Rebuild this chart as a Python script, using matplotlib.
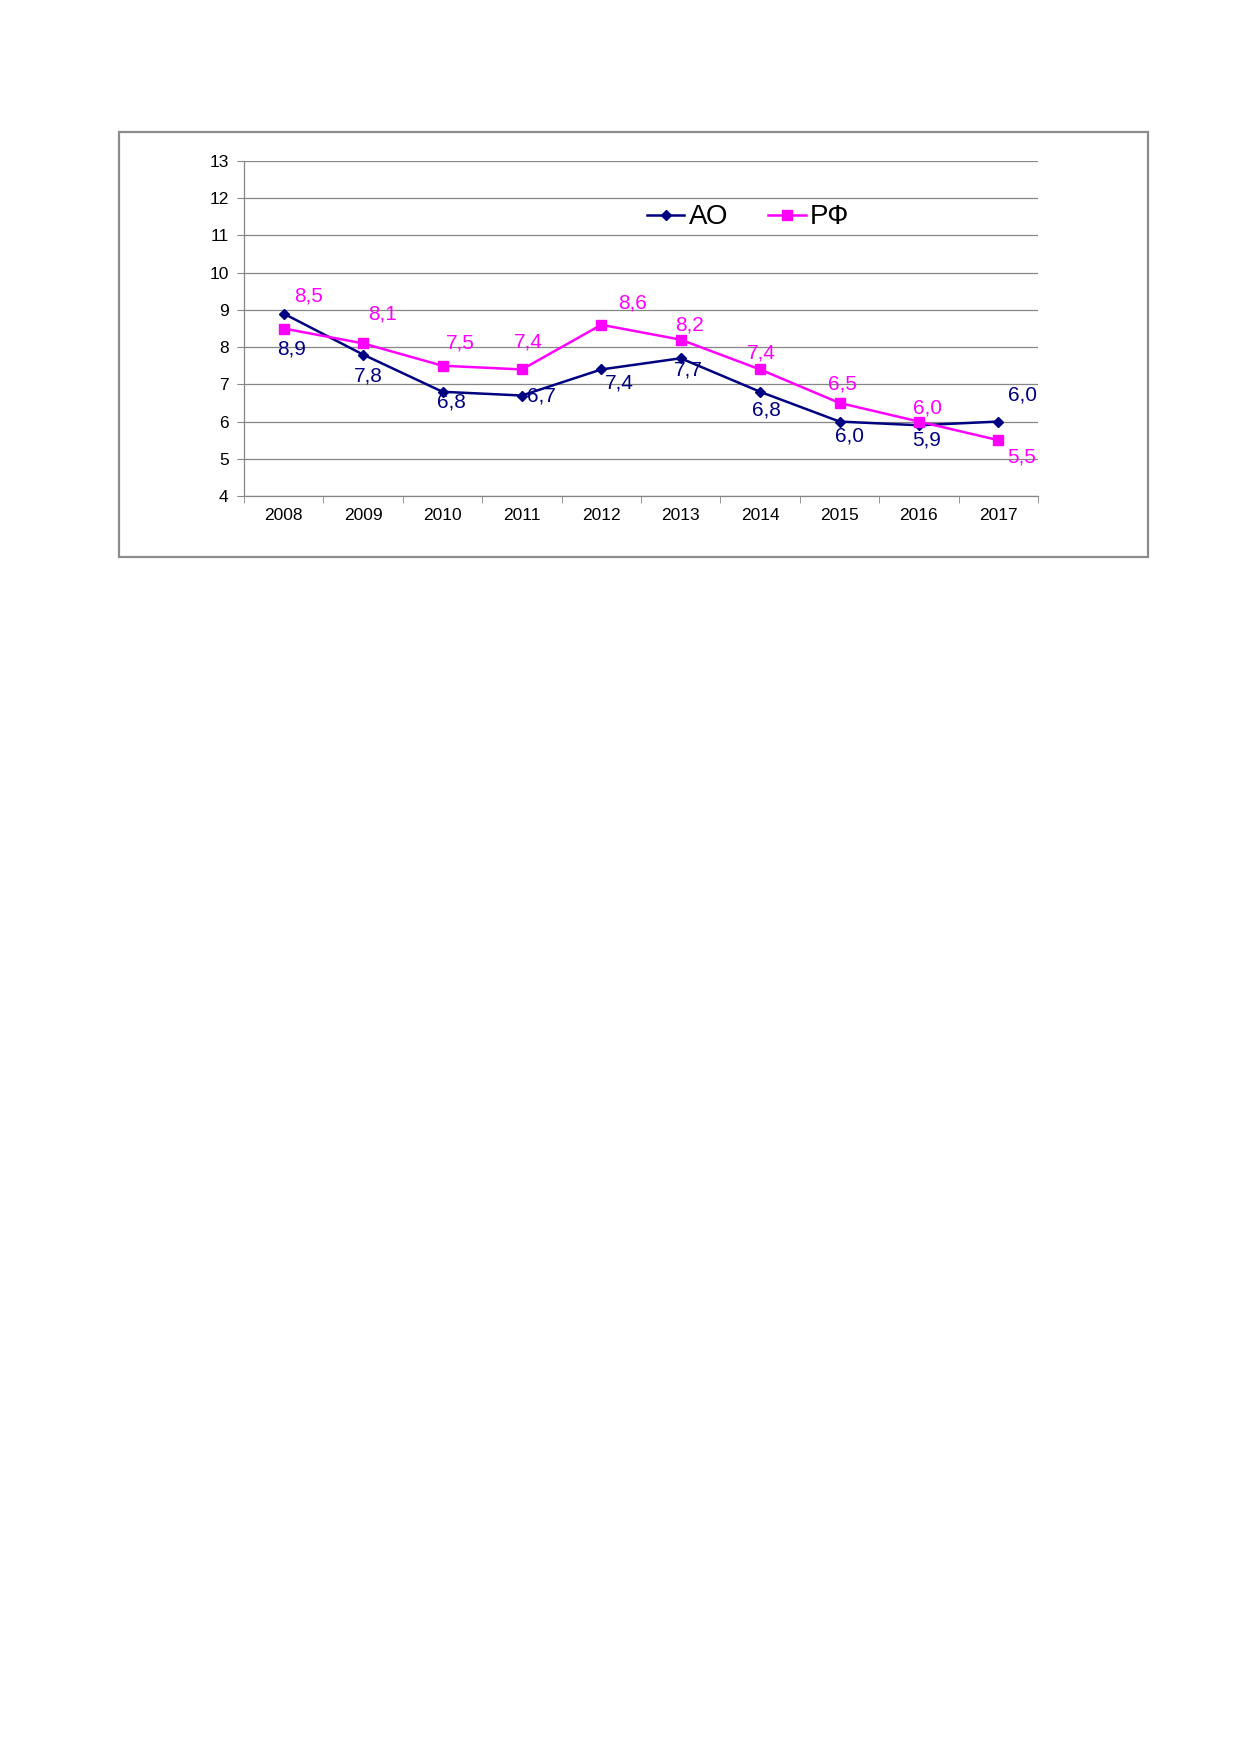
import matplotlib
matplotlib.use("Agg")
import matplotlib.pyplot as plt
from matplotlib.patches import Rectangle
import numpy as np

plt.rcParams['font.family'] = ['Liberation Sans', 'DejaVu Sans']

years = ['2008', '2009', '2010', '2011', '2012', '2013', '2014', '2015', '2016', '2017']
ao = [8.9, 7.8, 6.8, 6.7, 7.4, 7.7, 6.8, 6.0, 5.9, 6.0]
rf = [8.5, 8.1, 7.5, 7.4, 8.6, 8.2, 7.4, 6.5, 6.0, 5.5]
series_names = ['АО', 'РФ']

# label offsets in pixels (dx, dy) relative to markers (styling only)
ao_off = [(8, -35), (5, -21), (9, -10), (20, 0), (18, -14), (8, -12), (6, -18), (10, -14), (8, -15), (24, 27)]
rf_off = [(25, 33), (19, 29), (18, 23), (6, 27), (31, 22), (9, 15), (1, 16), (3, 19), (9, 14), (23, -17)]

navy = '#000080'
mag = '#FF00FF'
grid_c = '#868686'

fig = plt.figure(figsize=(12.39, 17.52), dpi=100)
fig.patch.set_facecolor('white')

# outer chart frame
fx0, fx1 = 119 / 1239, 1148 / 1239
fy1, fy0 = 1 - 132 / 1752, 1 - 557 / 1752
fig.patches.append(Rectangle((fx0, fy0), fx1 - fx0, fy1 - fy0, transform=fig.transFigure,
                             fill=False, edgecolor='#8c8c8c', linewidth=1.6))

ax_l, ax_r = 244 / 1239, 1038 / 1239
ax_t, ax_b = 1 - 161 / 1752, 1 - 496 / 1752
ax = fig.add_axes([ax_l, ax_b, ax_r - ax_l, ax_t - ax_b])

x = np.arange(len(years))
ax.plot(x, ao, color=navy, lw=1.8, marker='D', ms=5, mfc=navy, mec=navy, label=series_names[0])
ax.plot(x, rf, color=mag, lw=1.8, marker='s', ms=7, mfc=mag, mec=mag, label=series_names[1])

for xi, v, (dx, dy) in zip(x, ao, ao_off):
    ax.annotate(f"{v:.1f}".replace('.', ','), (xi, v), xytext=(dx, dy), textcoords='offset pixels',
                ha='center', va='center', color=navy, fontsize=15)
for xi, v, (dx, dy) in zip(x, rf, rf_off):
    ax.annotate(f"{v:.1f}".replace('.', ','), (xi, v), xytext=(dx, dy), textcoords='offset pixels',
                ha='center', va='center', color=mag, fontsize=15)

ax.set_xlim(-0.5, len(years) - 0.5)
ax.set_ylim(4, 13)
ax.set_yticks(range(4, 14))
ax.set_yticklabels([str(v) for v in range(4, 14)], fontsize=12.5)
ax.set_xticks(x)
ax.set_xticklabels(years, fontsize=12.5)
ax.set_xticks(np.arange(-0.5, len(years)), minor=True)
ax.tick_params(axis='x', which='major', length=0, pad=9)
ax.tick_params(axis='x', which='minor', length=5, color=grid_c, direction='out')
ax.tick_params(axis='y', which='major', length=5, color=grid_c, direction='out', pad=6)

ax.grid(axis='y', color=grid_c, lw=0.9)
ax.set_axisbelow(True)
for s in ['top', 'right']:
    ax.spines[s].set_visible(False)
for s in ['left', 'bottom']:
    ax.spines[s].set_color(grid_c)
    ax.spines[s].set_linewidth(0.9)

leg = ax.legend(loc='center', bbox_to_anchor=(0.635, 0.832), ncol=2, frameon=False,
                fontsize=20, handlelength=1.35, handletextpad=0.15, columnspacing=1.45)

fig.savefig('out.png', dpi=100, facecolor='white')
